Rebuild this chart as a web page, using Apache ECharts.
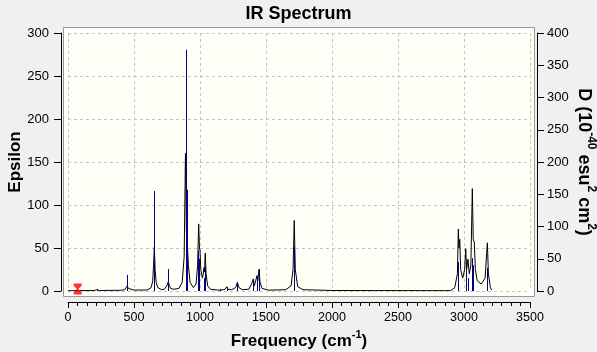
<!DOCTYPE html>
<html>
<head>
<meta charset="utf-8">
<title>IR Spectrum</title>
<script src="https://cdn.jsdelivr.net/npm/echarts@6/dist/echarts.min.js"></script>
<style>
  html, body { margin: 0; padding: 0; background: #f0f0f0; }
  #chart { width: 597px; height: 352px; }
</style>
</head>
<body>
<div id="chart"></div>
<script>
// broadened spectrum (black line): [frequency, epsilon]
const epsCurve = [
  [0, 0.3], [200, 0.6], [210, 0.8], [217, 1.5], [224, 0.8], [240, 0.6],
  [400, 0.8], [430, 1.5], [441, 3], [449, 6], [457, 3], [470, 1.5], [500, 1],
  [600, 1.2], [630, 4], [642, 12], [648, 30], [654, 51], [660, 25], [668, 10], [680, 4], [710, 1.5],
  [730, 2], [745, 4], [752, 7], [760, 11], [768, 6], [778, 3], [800, 2],
  [840, 3], [865, 10], [880, 40], [890, 160], [897, 70], [904, 55], [912, 30], [925, 10], [950, 4],
  [970, 8], [982, 30], [990, 78], [996, 50], [1000, 47], [1006, 25], [1018, 15], [1025, 20],
  [1030, 27], [1034, 22], [1040, 44], [1046, 20], [1058, 6], [1080, 2],
  [1140, 1], [1152, 2], [1160, 1], [1190, 2], [1202, 5], [1212, 2], [1240, 1.5],
  [1270, 4], [1283, 10], [1295, 4], [1320, 1.5],
  [1370, 2], [1390, 8], [1398, 10], [1404, 14], [1412, 6], [1424, 8], [1432, 18], [1438, 12],
  [1447, 25], [1455, 10], [1470, 3], [1520, 1],
  [1650, 1.5], [1690, 6], [1705, 25], [1714, 82], [1722, 25], [1740, 5], [1780, 1.5],
  [2000, 0.6], [2330, 0.5], [2340, 0.2], [2900, 0.4], [2930, 4], [2950, 20], [2957, 72],
  [2962, 50], [2968, 60], [2975, 25], [2990, 15], [3005, 25], [3013, 49], [3020, 25],
  [3030, 37], [3040, 20], [3052, 30], [3063, 119], [3070, 60], [3078, 57], [3086, 25],
  [3100, 12], [3130, 8], [3160, 15], [3172, 45], [3177, 56], [3185, 20], [3200, 4], [3210, 1]
];

// sticks (navy), right axis D
const stickFreq = [217, 449, 648, 654, 755, 760, 894, 904, 987, 995, 1030, 1040, 1152, 1202,
  1283, 1398, 1404, 1432, 1447, 1714, 2957, 3013, 3033, 3063, 3070, 3177];
const stickD = [3, 25, 60, 155, 14, 34, 374, 157, 63, 50, 20, 38, 3, 6,
  14, 12, 18, 22, 34, 68, 45, 33, 20, 51, 40, 36];

// red marker
const markerFreq = [73];
const markerEps = [2.3];

const xTicks = { min: 0, max: 3500, step: 500 };
const epsTicks = { min: 0, max: 300, step: 50 };
const dTicks = { min: 0, max: 400, step: 50 };

const font = 'Liberation Sans, Arial, sans-serif';
const supStyle = { fontSize: 11, fontWeight: 'bold', fontFamily: font, color: '#000', padding: [0, 0, 13, 0] };
const nameStyle = { fontSize: 17, fontWeight: 'bold', fontFamily: font, color: '#000' };
const rightNameStyle = { fontSize: 18, fontWeight: 'bold', fontFamily: font, color: '#000' };
const rightSupStyle = { fontSize: 12, fontWeight: 'bold', fontFamily: font, color: '#000', padding: [0, 0, 14, 0] };

const chart = echarts.init(document.getElementById('chart'));

const option = {
  backgroundColor: '#f0f0f0',
  animation: false,
  title: {
    text: 'IR Spectrum',
    left: 'center',
    top: 0,
    textStyle: { fontSize: 18, fontWeight: 'bold', fontFamily: font, color: '#000' }
  },
  graphic: [{
    type: 'rect',
    z: -100,
    shape: { x: 63.5, y: 27.5, width: 471, height: 269 },
    style: { fill: '#fffff8', stroke: '#999', lineWidth: 1 }
  }],
  grid: { left: 68, right: 67, top: 33, bottom: 61, outerBoundsMode: 'none' },
  xAxis: {
    type: 'value',
    min: xTicks.min, max: xTicks.max, interval: xTicks.step,
    offset: 11,
    name: '{b|Frequency (cm}{s|-1}{b|)}',
    nameLocation: 'middle',
    nameGap: 27,
    nameMoveOverlap: false,
    nameTextStyle: { rich: { b: nameStyle, s: supStyle } },
    axisLine: { onZero: false, lineStyle: { color: '#000', width: 1 } },
    axisTick: { length: 6, lineStyle: { color: '#000' } },
    minorTick: { show: true, splitNumber: 7, length: 4, lineStyle: { color: '#000' } },
    axisLabel: { margin: 9, fontSize: 12.5, fontFamily: font, color: '#000', formatter: v => String(v) },
    splitLine: { show: true, lineStyle: { color: '#c4c4c4', type: [3, 3] } }
  },
  yAxis: [{
    type: 'value',
    position: 'left',
    min: epsTicks.min, max: epsTicks.max, interval: epsTicks.step,
    offset: 7,
    name: 'Epsilon',
    nameLocation: 'middle',
    nameGap: 37,
    nameMoveOverlap: false,
    nameRotate: 90,
    nameTextStyle: nameStyle,
    axisLine: { show: true, onZero: false, lineStyle: { color: '#000', width: 1 } },
    axisTick: { show: true, length: 7, lineStyle: { color: '#000' } },
    axisLabel: { margin: 12, fontSize: 13, fontFamily: font, color: '#000' },
    splitLine: { show: true, lineStyle: { color: '#c4c4c4', type: [3, 3] } }
  }, {
    type: 'value',
    position: 'right',
    min: dTicks.min, max: dTicks.max, interval: dTicks.step,
    offset: 7,
    name: '{b|D (10}{s|-40}{b| esu}{s|2}{b| cm}{s|2}{b|)}',
    nameLocation: 'middle',
    nameGap: 34,
    nameMoveOverlap: false,
    nameRotate: -90,
    nameTextStyle: { rich: { b: rightNameStyle, s: rightSupStyle } },
    axisLine: { show: true, onZero: false, lineStyle: { color: '#000', width: 1 } },
    axisTick: { show: true, length: 7, lineStyle: { color: '#000' } },
    axisLabel: { margin: 10, fontSize: 13, fontFamily: font, color: '#000' },
    splitLine: { show: false }
  }],
  series: [{
    name: 'Epsilon',
    type: 'line',
    data: epsCurve,
    yAxisIndex: 0,
    symbol: 'none',
    lineStyle: { color: '#000', width: 1 },
    z: 2
  }, {
    name: 'D',
    type: 'custom',
    data: stickFreq.map((f, i) => [f, stickD[i]]),
    yAxisIndex: 1,
    renderItem: (params, api) => {
      const top = api.coord([api.value(0), api.value(1)]);
      const base = api.coord([api.value(0), 0]);
      const x = Math.round(top[0]) + 0.5;
      return {
        type: 'line',
        shape: { x1: x, y1: base[1], x2: x, y2: top[1] },
        style: { stroke: '#000080', lineWidth: 1 }
      };
    },
    z: 3
  }, {
    name: 'marker',
    type: 'scatter',
    data: markerFreq.map((f, i) => [f, markerEps[i]]),
    yAxisIndex: 0,
    symbol: 'path://M0,0L10,0L10,2L6,5L10,8L10,10L0,10L0,8L4,5L0,2Z',
    symbolSize: [8, 11],
    itemStyle: { color: '#ff0000' },
    z: 4
  }]
};

chart.setOption(option);
</script>
</body>
</html>
